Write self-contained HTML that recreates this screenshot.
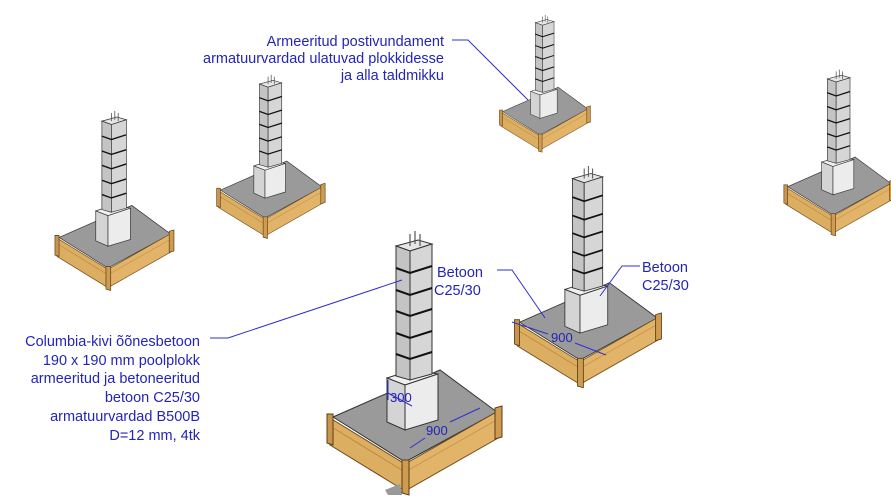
<!DOCTYPE html>
<html><head><meta charset="utf-8"><style>
html,body{margin:0;padding:0;background:#fff;}
svg{display:block;}
text{font-family:"Liberation Sans",sans-serif;font-size:14.5px;fill:#2424b8;}
</style></head><body>
<svg width="891" height="501" viewBox="0 0 891 501" xmlns="http://www.w3.org/2000/svg">
<defs>
<g id="f">
  <polygon points="-72,-45 35,-92 92,-50 0,0" fill="#9a9a9a" stroke="#333" stroke-width="1"/>
  <polygon points="-75,-44 0,2 0,29 -75,-17" fill="#dcae62" stroke="#6b4a1a" stroke-width="1"/>
  <polygon points="0,2 95,-52 95,-25 0,29" fill="#e2b46a" stroke="#6b4a1a" stroke-width="1"/>
  <line x1="-75" y1="-36" x2="0" y2="10" stroke="#c08a40" stroke-width="1"/>
  <line x1="0" y1="10" x2="95" y2="-44" stroke="#c99448" stroke-width="1"/>
  <polygon points="-78,-48 -72,-48 -72,-17 -78,-19" fill="#c9954c" stroke="#5a3d15" stroke-width="1"/>
  <polygon points="-3,-2 4,-2 4,33 -3,31" fill="#cf9b50" stroke="#5a3d15" stroke-width="1"/>
  <polygon points="90,-54 97,-56 97,-25 90,-23" fill="#cf9b50" stroke="#5a3d15" stroke-width="1"/>
  <polygon points="-18,-84 7,-92 33,-88 0,-77" fill="#f0f0f0" stroke="#333" stroke-width="1"/>
  <polygon points="-18,-84 0,-77 0,-32 -18,-40" fill="#d4d4d4" stroke="#333" stroke-width="1"/>
  <polygon points="0,-77 33,-88 33,-42 0,-32" fill="#ececec" stroke="#333" stroke-width="1"/>
  <polygon points="-9,-216 13,-222 27,-218 5,-211" fill="#e6e6e6" stroke="#333" stroke-width="1"/>
  <polygon points="-9,-216 5,-211 5,-82 -9,-86" fill="#c4c4c4" stroke="#333" stroke-width="1"/>
  <polygon points="5,-211 27,-218 27,-88 5,-82" fill="#d6d6d6" stroke="#333" stroke-width="1"/>
  <g fill="none" stroke="#111" stroke-width="2">
    <polyline points="-9,-194 5,-189 27,-196"/>
    <polyline points="-9,-172 5,-167 27,-174"/>
    <polyline points="-9,-151 5,-146 27,-153"/>
    <polyline points="-9,-129 5,-124 27,-131"/>
    <polyline points="-9,-108 5,-103 27,-110"/>
  </g>
  <g stroke="#555" stroke-width="1.2">
    <line x1="5" y1="-216" x2="5" y2="-228"/>
    <line x1="10" y1="-218" x2="10" y2="-231"/>
    <line x1="15" y1="-216" x2="15" y2="-228"/>
  </g>
</g>
</defs>

<use href="#f" transform="translate(540,135) scale(0.52)"/>
<use href="#f" transform="translate(265,218) scale(0.62)"/>
<use href="#f" transform="translate(108,268) scale(0.68)"/>
<use href="#f" transform="translate(833,215) scale(0.63)"/>
<use href="#f" transform="translate(580,360) scale(0.84)"/>
<use href="#f" transform="translate(405,462)"/>
<polygon points="385,490 400,484 402,495 388,495" fill="#999"/>

<g stroke="#3030d0" stroke-width="1" fill="none">
  <polyline points="452,40 468,40 528,100"/>
  <polyline points="210,338 228,338 402,280"/>
  <polyline points="497,270 512,270 545,318"/>
  <polyline points="640,266 622,266 600,296"/>
  <line x1="388" y1="380" x2="388" y2="400"/>
  <line x1="388" y1="393" x2="412" y2="406"/>
  <line x1="410" y1="448" x2="425" y2="438"/>
  <line x1="450" y1="422" x2="480" y2="408"/>
  <line x1="512" y1="322" x2="548" y2="334"/>
  <line x1="575" y1="343" x2="606" y2="355"/>
</g>

<text x="444" y="46" text-anchor="end">Armeeritud postivundament</text>
<text x="444" y="63" text-anchor="end">armatuurvardad ulatuvad plokkidesse</text>
<text x="444" y="80" text-anchor="end">ja alla taldmikku</text>

<text x="200" y="346" text-anchor="end">Columbia-kivi õõnesbetoon</text>
<text x="200" y="365" text-anchor="end">190 x 190 mm poolplokk</text>
<text x="200" y="383" text-anchor="end">armeeritud ja betoneeritud</text>
<text x="200" y="402" text-anchor="end">betoon C25/30</text>
<text x="200" y="421" text-anchor="end">armatuurvardad B500B</text>
<text x="200" y="440" text-anchor="end">D=12 mm, 4tk</text>

<text x="437" y="277">Betoon</text>
<text x="434" y="295">C25/30</text>
<text x="642" y="272">Betoon</text>
<text x="642" y="290">C25/30</text>

<text x="390" y="402" style="font-size:13px">300</text>
<text x="426" y="435" style="font-size:13px">900</text>
<text x="551" y="342" style="font-size:13px">900</text>
</svg>
</body></html>
